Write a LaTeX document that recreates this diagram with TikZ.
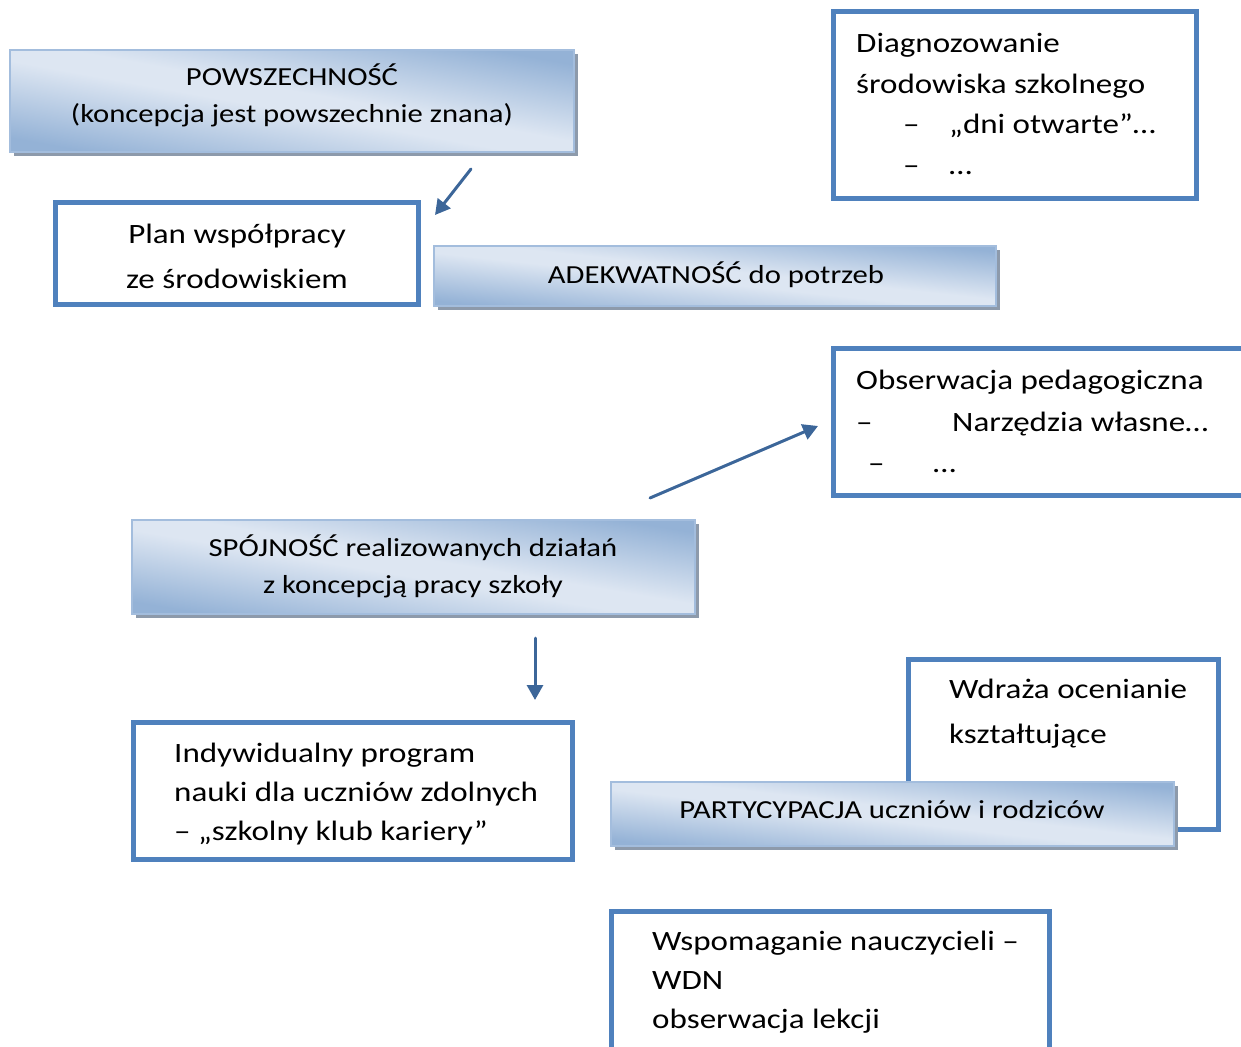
\documentclass[tikz,border=0pt]{standalone}
\usepackage{fontspec}
\setmainfont{Carlito}[FakeStretch=1.18]
\usepackage{tikz}
\usetikzlibrary{arrows.meta,shadows}
\definecolor{ramka}{HTML}{4F81BD}
\definecolor{strzalka}{HTML}{3C6699}
\definecolor{gradciemny}{HTML}{94B2D6}
\definecolor{gradjasny}{HTML}{DDE6F2}
\definecolor{gradlinia}{HTML}{A3BDDD}
\definecolor{cien}{HTML}{8D9AAB}
\pgfdeclareverticalshading{wordgrad}{100bp}{color(0bp)=(gradciemny); color(25bp)=(gradciemny);
  color(47bp)=(gradjasny); color(53bp)=(gradjasny); color(75bp)=(gradciemny); color(100bp)=(gradciemny)}
\tikzstyle{bialybox}=[draw=ramka,line width=5pt,fill=white,rectangle,inner sep=0pt]
\tikzstyle{gradbox}=[draw=gradlinia,line width=2pt,rectangle,inner sep=0pt,
  shading=wordgrad,shading angle=#1,
  drop shadow={shadow xshift=4pt,shadow yshift=-4pt,fill=cien,opacity=1}]
\tikzstyle{napis}=[inner sep=0pt,align=left,anchor=west,font=\fontsize{28}{39}\selectfont]
\tikzstyle{gradnapis}=[inner sep=0pt,align=center,font=\fontsize{26}{37}\selectfont]
\tikzstyle{strz}=[draw=strzalka,line width=3pt,line cap=round,-{Triangle[width=16pt,length=15pt]}]

\begin{document}
\begin{tikzpicture}[x=1pt,y=-1pt]
\useasboundingbox (0,0) rectangle (1241,1046);
% gora
\node[gradbox=-10.25,minimum width=564pt,minimum height=102pt] (powsz) at (292,101) {};
\node[gradnapis] (powszT) at (292,95.5) {POWSZECHNOŚĆ\\(koncepcja jest powszechnie znana)};
\node[bialybox,minimum width=363pt,minimum height=102pt] (plan) at (237,253.5) {};
\node[napis,anchor=center,align=center,font=\fontsize{28}{45}\selectfont] (planT) at (237,256.5)
  {Plan współpracy\\ze środowiskiem};
\node[gradbox=-6.1,minimum width=562pt,minimum height=60pt] (adekw) at (715,276) {};
\node[gradnapis] (adekwT) at (716,275) {ADEKWATNOŚĆ do potrzeb};
\node[bialybox,minimum width=363pt,minimum height=187pt] (diag) at (1015,105) {};
\node[napis,font=\fontsize{28}{40.7}\selectfont] (diagT) at (856,104)
  {Diagnozowanie\\środowiska szkolnego\\
   \hspace*{47pt}\makebox[46pt][l]{–}„dni otwarte”…\\
   \hspace*{47pt}\makebox[46pt][l]{–}…};
% srodek
\node[bialybox,minimum width=424pt,minimum height=147pt] (obs) at (1045.5,422) {};
\node[napis,font=\fontsize{28}{41.5}\selectfont] (obsT) at (856,421.5)
  {Obserwacja pedagogiczna\\
   \makebox[96pt][l]{–}Narzędzia własne…\\
   \hspace*{12pt}\makebox[65pt][l]{–}…};
\node[gradbox=-9.5,minimum width=563pt,minimum height=94pt] (spoj) at (413.5,567) {};
\node[gradnapis] (spojT) at (413,566.5) {SPÓJNOŚĆ realizowanych działań\\z koncepcją pracy szkoły};
% dol
\node[bialybox,minimum width=439pt,minimum height=137pt] (indyw) at (353,791) {};
\node[napis] (indywT) at (174,794)
  {Indywidualny program\\nauki dla uczniów zdolnych\\– „szkolny klub kariery”};
\node[bialybox,minimum width=310pt,minimum height=170pt] (wdraza) at (1063.5,744.5) {};
\node[napis,font=\fontsize{28}{45}\selectfont] (wdrazaT) at (949,713.5)
  {Wdraża ocenianie\\kształtujące};
\node[gradbox=-6.5,minimum width=563pt,minimum height=64pt] (party) at (892.5,814) {};
\node[gradnapis] (partyT) at (892,810) {PARTYCYPACJA uczniów i rodziców};
\node[bialybox,minimum width=438pt,minimum height=166pt] (wspom) at (830.5,994.5) {};
\node[napis] (wspomT) at (652,982)
  {Wspomaganie nauczycieli –\\WDN\\obserwacja lekcji};
% strzalki
\coordinate (s1a) at (471,169);
\coordinate (s1b) at (435,215);
\coordinate (s2a) at (650,498);
\coordinate (s2b) at (818,426);
\coordinate (s3a) at (535,638);
\coordinate (s3b) at (535,700);
\draw[strz] (s1a) -- (s1b);
\draw[strz] (s2a) -- (s2b);
\draw[strz] (s3a) -- (s3b);
\end{tikzpicture}
\end{document}
